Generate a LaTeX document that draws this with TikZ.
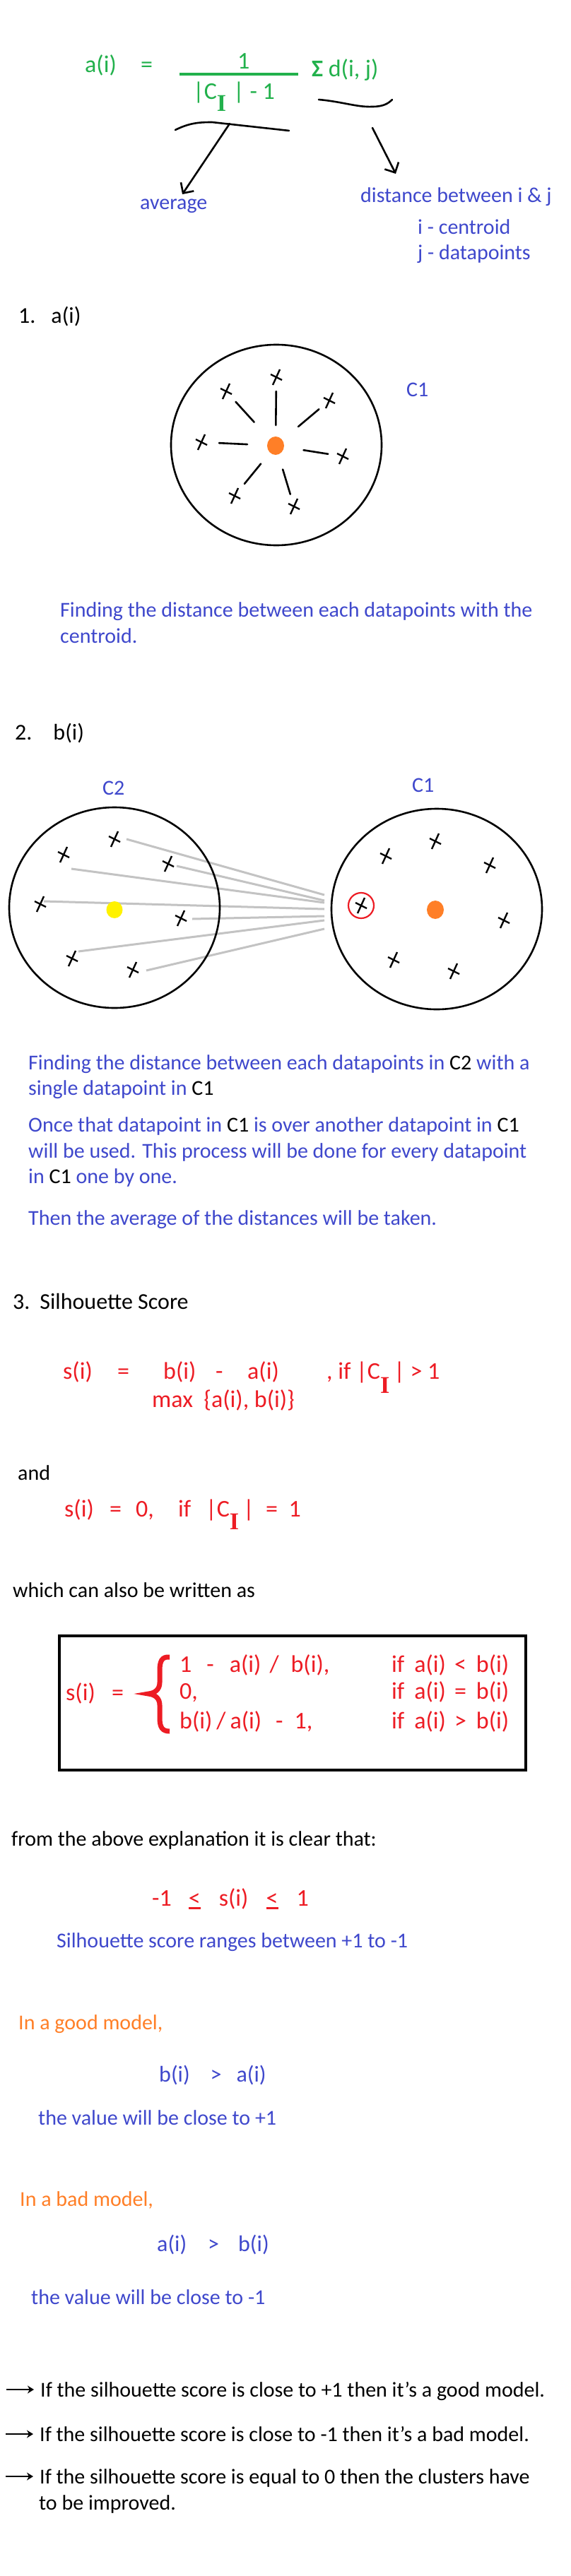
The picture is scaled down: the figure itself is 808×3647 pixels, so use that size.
\documentclass[tikz,border=0pt]{standalone}
\usepackage{fontspec}
\setmainfont{Carlito}
\newfontfamily\serifI{Liberation Serif}
\usetikzlibrary{arrows.meta}
\definecolor{paintblue}{RGB}{63,72,204}
\definecolor{paintgreen}{RGB}{34,177,76}
\definecolor{paintred}{RGB}{237,28,36}
\definecolor{paintorange}{RGB}{255,127,39}
\definecolor{paintyellow}{RGB}{255,242,0}
\definecolor{paintgray}{RGB}{195,195,195}
\newcommand{\subI}[1]{\raisebox{-#1}{\serifI\bfseries I}}
\newcommand{\lequl}{\ooalign{<\cr\rule[-5pt]{0.5em}{3pt}\cr}}
\tikzset{
  body/.style={anchor=base west, inner sep=0pt, font=\fontsize{30}{36}\selectfont},
  head/.style={anchor=base west, inner sep=0pt, font=\fontsize{32}{38}\selectfont},
  formula/.style={anchor=base west, inner sep=0pt, font=\fontsize{34}{40}\selectfont},
  inkline/.style={line width=2.6pt, line cap=round},
  distline/.style={draw=paintgray, line width=3pt},
  dpoint/.pic={
    \draw[line width=2.4pt] (5,-11) -- (-5,11);
    \draw[line width=2.4pt] (-8,-4) -- (8,4);
  },
}
\begin{document}
\begin{tikzpicture}[x=1pt, y=-1pt]
\path[fill=white, use as bounding box] (0,0) rectangle (808,3647);

% a(i) formula
\node[formula, text=paintgreen] (ai) at (120,103) {a(i)};
\node[formula, text=paintgreen] (aieq) at (199,103) {=};
\node[formula, text=paintgreen] (num) at (336,98) {1};
\draw[paintgreen, line width=3.5pt] (254,105) -- (422,105);
\node[formula, text=paintgreen] (den) at (273,141) {|C\subI{17pt}\hspace{10pt}|\ -\ 1};
\node[formula, text=paintgreen] (sum) at (441,109) {\textbf{Σ} d(i, j)};

\draw[inkline] (248,184) .. controls (268,174) and (282,173) .. (300,173) -- (409,185);
\draw[inkline] (451,141) .. controls (485,144) and (505,152) .. (527,151) .. controls (543,151) and (550,146) .. (555,141);
\coordinate (avgtop) at (325,175);
\coordinate (avgtip) at (258,275);
\coordinate (disttop) at (527,181);
\coordinate (disttip) at (560,246);
\draw[inkline, -{Straight Barb[length=11pt,width=22pt]}] (avgtop) -- (avgtip);
\draw[inkline, -{Straight Barb[length=11pt,width=22pt]}] (disttop) -- (disttip);

\node[body, text=paintblue] (avg) at (198,297) {average};
\node[body, text=paintblue] (dist) at (510,287) {distance between i \& j};
\node[body, text=paintblue] (icen) at (591,332) {i - centroid};
\node[body, text=paintblue] (jdat) at (591,367) {j - datapoints};

% 1. a(i)
\node[head] (h1) at (26,457) {1.\hspace{22pt}a(i)};
\draw[inkline] (391,630) ellipse [x radius=149, y radius=142];
\coordinate (cen1) at (390,631);
\fill[paintorange] (cen1) ellipse [x radius=12, y radius=13];
\foreach \n/\x/\y in {p1/391/534, p2/320/554, p3/466/567, p4/285/626, p5/485/646, p6/332/702, p7/416/717}
{
  \coordinate (\n) at (\x,\y);
  \pic at (\n) {dpoint};
}
\foreach \n/\a/\b in {p1/29/20, p2/45/20, p3/42/19, p4/40/25, p5/40/21, p6/33/22, p7/35/18}
  \draw[inkline, shorten <=\a pt, shorten >=\b pt] (cen1) -- (\n);
\node[body, text=paintblue] (c1a) at (575,561) {C1};
\node[body, text=paintblue] (find1) at (85,873) {Finding the distance between each datapoints with the};
\node[body, text=paintblue] (find1b) at (85,910) {centroid.};

% 2. b(i)
\node[head] (h2) at (21,1047) {2.\hspace{30pt}b(i)};
\node[body, text=paintblue] (c2lab) at (145,1125) {C2};
\node[body, text=paintblue] (c1lab) at (583,1121) {C1};
\coordinate (sel) at (511,1282);
\foreach \n/\x/\y in {q1/162/1188, q2/90/1210, q3/238/1223, q4/57/1280, q5/256/1300, q6/102/1357, q7/188/1373}
  \coordinate (\n) at (\x,\y);
\foreach \n/\dx/\dy/\ey in {q1/17/0/-15, q3/12/3/-7, q2/11/20/-4, q4/5/-4/5, q5/16/1/15, q6/9/-10/21, q7/19/1/33}
  \draw[distline] ([shift={(\dx,\dy)}]\n) -- ([shift={(-52,\ey)}]sel);
\draw[inkline] (162,1285) ellipse [x radius=149, y radius=142];
\draw[inkline] (618,1287) ellipse [x radius=149, y radius=142];
\fill[paintyellow] (162,1288) ellipse [x radius=11.5, y radius=12];
\fill[paintorange] (616,1288) ellipse [x radius=12, y radius=13];
\foreach \n in {q1,q2,q3,q4,q5,q6,q7}
  \pic at (\n) {dpoint};
\foreach \n/\x/\y in {r1/616/1191, r2/546/1212, r3/693/1225, r4/713/1303, r5/557/1359, r6/642/1375}
{
  \coordinate (\n) at (\x,\y);
  \pic at (\n) {dpoint};
}
\pic at (sel) {dpoint};
\draw[paintred, line width=2.2pt] (sel) circle [radius=18];

\node[body, text=paintblue] (par1) at (40,1514) {Finding the distance between each datapoints in \textcolor{black}{C2} with a};
\node[body, text=paintblue] (par2) at (40,1550) {single datapoint in \textcolor{black}{C1}};
\node[body, text=paintblue] (par3) at (40,1602) {Once that datapoint in \textcolor{black}{C1} is over another datapoint in \textcolor{black}{C1}};
\node[body, text=paintblue] (par4) at (40,1639) {will be used. This process will be done for every datapoint};
\node[body, text=paintblue] (par5) at (40,1675) {in \textcolor{black}{C1} one by one.};
\node[body, text=paintblue] (par6) at (40,1734) {Then the average of the distances will be taken.};

% 3. silhouette score
\node[head] (h3) at (18,1853) {3.\hspace{14pt}Silhouette Score};
\node[formula, text=paintred] (si) at (89,1952) {s(i)};
\node[formula, text=paintred] (sieq) at (166,1952) {=};
\node[formula, text=paintred] (sib) at (231,1952) {b(i)};
\node[formula, text=paintred] (simin) at (305,1952) {-};
\node[formula, text=paintred] (sia) at (350,1952) {a(i)};
\node[formula, text=paintred] (cond1) at (462,1952) {, if |C\subI{20pt}\hspace{6pt}| > 1};
\node[formula, text=paintred] (maxab) at (215,1992) {max\ \ \{a(i), b(i)\}};
\node[body] (and) at (25,2095) {and};
\node[formula, text=paintred] (si0) at (91,2147) {s(i)};
\node[formula, text=paintred] (si0eq) at (155,2147) {=};
\node[formula, text=paintred] (zero) at (192,2147) {0,};
\node[formula, text=paintred] (if0) at (252,2147) {if};
\node[formula, text=paintred] (card) at (291,2147) {|C\subI{18pt}\hspace{6pt}|};
\node[formula, text=paintred] (card1) at (376,2147) {=\ \ 1};

\node[body] (also) at (18,2261) {which can also be written as};
\draw[line width=4pt] (84,2316) rectangle (744,2506);
\node[formula, text=paintred] (sbox) at (93,2407) {s(i)};
\node[formula, text=paintred] (sboxeq) at (158,2407) {=};
\draw[paintred, line width=7pt] (240,2346) .. controls (229,2345) and (226,2352) .. (226,2365) -- (226,2382) .. controls (226,2392) and (219,2397) .. (210,2398) .. controls (219,2399) and (226,2404) .. (226,2414) -- (226,2432) .. controls (226,2446) and (230,2451) .. (240,2451);
\node[formula, text=paintred] (case1) at (254,2367) {1\hspace{21pt}-\hspace{22pt}a(i)\hspace{12pt}/\hspace{17pt}b(i),};
\node[formula, text=paintred] (case2) at (254,2405) {0,};
\node[formula, text=paintred] (case3) at (254,2447) {b(i)\hspace{6pt}/\hspace{6pt}a(i)\hspace{20pt}-\hspace{16pt}1,};
\node[formula, text=paintred] (if1) at (554,2367) {if\hspace{14pt}a(i)\hspace{12pt}<\hspace{14pt}b(i)};
\node[formula, text=paintred] (if2) at (554,2405) {if\hspace{14pt}a(i)\hspace{12pt}=\hspace{14pt}b(i)};
\node[formula, text=paintred] (if3) at (554,2447) {if\hspace{14pt}a(i)\hspace{12pt}>\hspace{14pt}b(i)};

\node[body] (clear) at (16,2613) {from the above explanation it is clear that:};
\node[formula, text=paintred] (range) at (215,2698) {-1\hspace{24pt}\lequl\hspace{26pt}s(i)\hspace{25pt}\lequl\hspace{26pt}1};
\node[body, text=paintblue] (ranges) at (80,2757) {Silhouette score ranges between +1 to -1};

\node[body, text=paintorange] (good) at (26,2873) {In a good model,};
\node[head, text=paintblue] (goodrel) at (225,2947) {b(i)\hspace{29pt}>\hspace{21pt}a(i)};
\node[body, text=paintblue] (goodval) at (54,3008) {the value will be close to +1};
\node[body, text=paintorange] (bad) at (28,3123) {In a bad model,};
\node[head, text=paintblue] (badrel) at (222,3187) {a(i)\hspace{30pt}>\hspace{27pt}b(i)};
\node[body, text=paintblue] (badval) at (44,3262) {the value will be close to -1};

% conclusions
\node[body] (rule1) at (57,3393) {If the silhouette score is close to +1 then it's a good model.};
\node[body] (rule2) at (56,3456) {If the silhouette score is close to -1 then it's a bad model.};
\node[body] (rule3) at (56,3516) {If the silhouette score is equal to 0 then the clusters have};
\node[body] (rule3b) at (55,3553) {to be improved.};
\foreach \r in {rule1,rule2,rule3}
  \draw[line width=2.8pt, -{Stealth[length=9pt,width=11pt]}] ([shift={(-48,-10)}]\r.base west) -- ([shift={(-9,-10)}]\r.base west);
\end{tikzpicture}
\end{document}
